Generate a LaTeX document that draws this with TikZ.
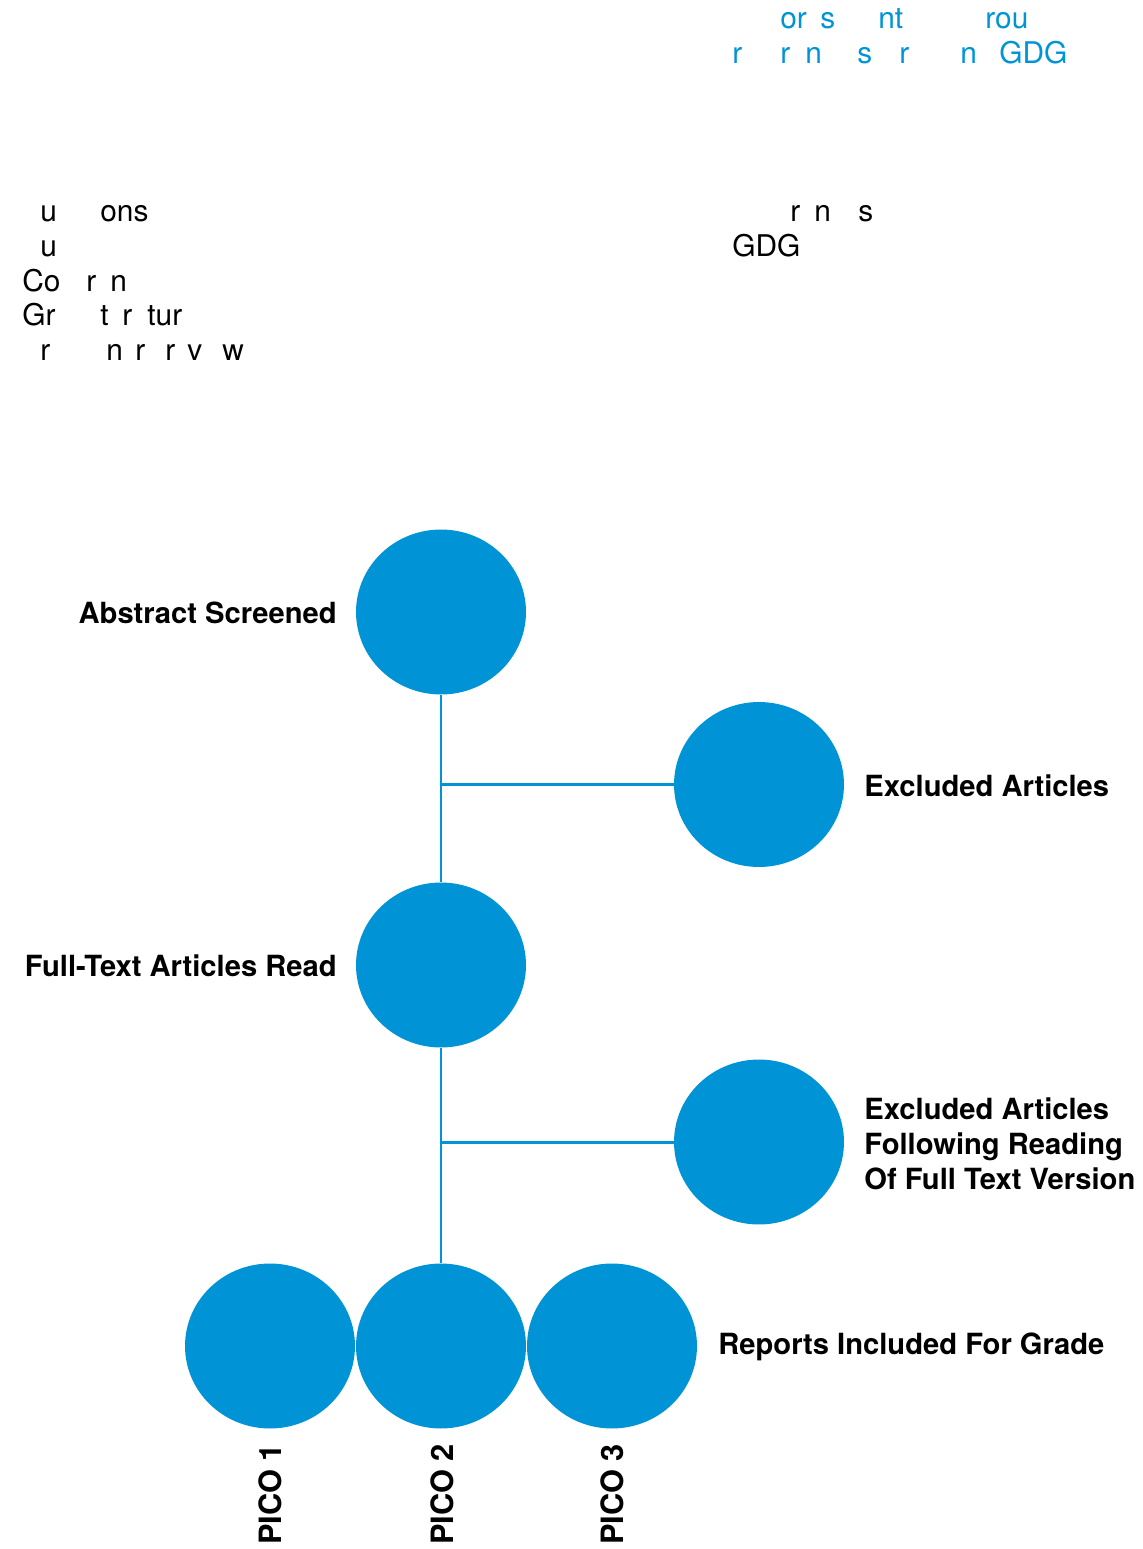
\documentclass[tikz,border=0pt]{standalone}
\usepackage{fontspec}
\setmainfont{TeX Gyre Heros}
\usepackage{tikz}
\usetikzlibrary{shapes}

\definecolor{flowblue}{RGB}{0,148,214}

\tikzset{
  stage/.style={ellipse,fill=flowblue,draw=none,minimum width=3.4cm,minimum height=3.3cm,inner sep=0pt},
  link/.style={draw=flowblue,line width=1.7pt},
  tag/.style={font=\fontsize{16.6}{19.9}\selectfont\bfseries,inner sep=0pt,align=left},
  picotag/.style={font=\fontsize{17.5}{20}\selectfont\bfseries,inner sep=0pt,anchor=west,rotate=90},
  garb/.style={font=\fontsize{17}{20}\selectfont,inner sep=0pt,anchor=base west},
}

\begin{document}
\begin{tikzpicture}[x=0.02cm,y=-0.02cm]
\useasboundingbox (0,0) rectangle (1143,1549);

% broken header text
\foreach \x/\t [count=\i] in {780/or,820/s,878/nt,985/rou}
  \node[garb,text=flowblue] (ha\i) at (\x,28) {\t};
\foreach \x/\t [count=\i] in {732/r,780/r,805/n,857/s,899/r,960/n,999/GDG}
  \node[garb,text=flowblue] (hb\i) at (\x,63) {\t};

% broken side text
\foreach \x/\t [count=\i] in {40/u,100/ons}
  \node[garb] (la\i) at (\x,221) {\t};
\node[garb] (lb1) at (40,256) {u};
\foreach \x/\t [count=\i] in {22/Co,86/r,110/n}
  \node[garb] (lc\i) at (\x,291) {\t};
\foreach \x/\t [count=\i] in {22/Gr,100/t,122/r,147/tur}
  \node[garb] (ld\i) at (\x,325) {\t};
\foreach \x/\t [count=\i] in {40/r,106/n,135/r,165/r,187/v,222/w}
  \node[garb] (le\i) at (\x,360) {\t};
\foreach \x/\t [count=\i] in {790/r,814/n,858/s}
  \node[garb] (ra\i) at (\x,221) {\t};
\node[garb] (rb1) at (732,256) {GDG};

% circles
\node[stage] (abstract) at (441,612) {};
\node[stage] (excl) at (759,784.5) {};
\node[stage] (fulltext) at (441,965) {};
\node[stage] (exclread) at (759,1142) {};
\node[stage] (pico1) at (270,1346) {};
\node[stage] (pico2) at (441,1346) {};
\node[stage] (pico3) at (612,1346) {};

% branch points
\coordinate (b1) at (441,784.5);
\coordinate (b2) at (441,1142);

\draw[link] (abstract.south) -- (fulltext.north);
\draw[link] (fulltext.south) -- (pico2.north);
\draw[link] (b1) -- (excl.west);
\draw[link] (b2) -- (exclread.west);

% labels
\node[tag,anchor=east] (abstractlbl) at (337,613) {Abstract Screened};
\node[tag,anchor=west] (excllbl) at (864,786) {Excluded Articles};
\node[tag,anchor=east] (fulltextlbl) at (337,966) {Full-Text Articles Read};
\node[tag,anchor=west] (exclreadlbl) at (864,1144) {Excluded Articles\\Following Reading\\Of Full Text Version};
\node[tag,anchor=west] (reportslbl) at (718,1347) {Reports Included For Grade};
\node[picotag] (pico1lbl) at (270,1545) {PICO 1};
\node[picotag] (pico2lbl) at (442,1545) {PICO 2};
\node[picotag] (pico3lbl) at (612,1545) {PICO 3};
\end{tikzpicture}
\end{document}
